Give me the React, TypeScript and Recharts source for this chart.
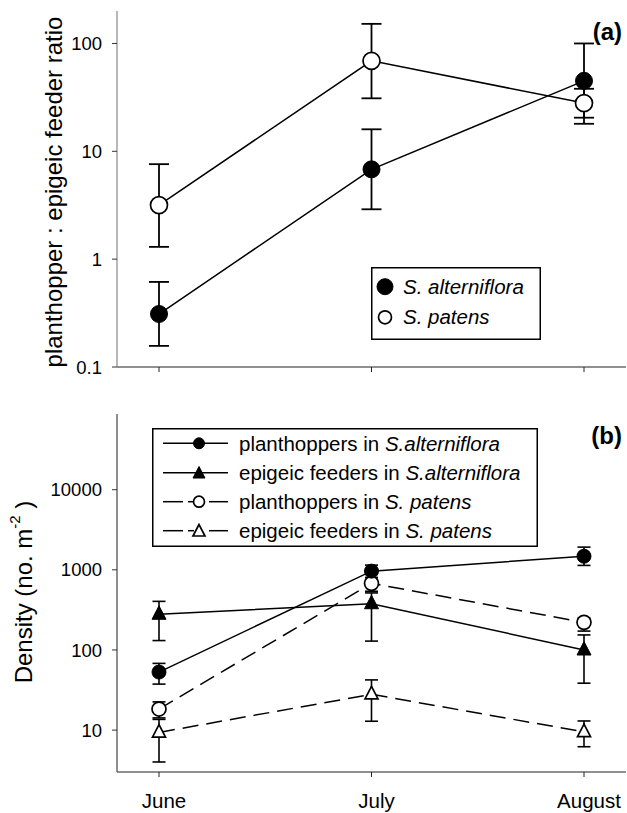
import React from 'react';
import { LineChart, Line, XAxis, YAxis, ErrorBar, Legend } from 'recharts';

const FONT = '"Liberation Sans", Arial, Helvetica, sans-serif';

// categories
const months = ['June', 'July', 'August'];

// panel (a): planthopper : epigeic feeder ratio
const ratioAlt = [0.31, 6.8, 45];
const ratioAltLo = [0.157, 2.9, 20.5];
const ratioAltHi = [0.615, 16, 100];
const ratioPat = [3.17, 69, 28];
const ratioPatLo = [1.3, 31, 18];
const ratioPatHi = [7.6, 152, 38];
const ratioTicks = [0.1, 1, 10, 100];
const ratioNames = ['S. alterniflora', 'S. patens'];

// panel (b): density (no. m-2)
const phAlt = [53, 963, 1480];
const phAltLo = [37.5, 800, 1135];
const phAltHi = [68, 1145, 1920];
const efAlt = [279, 378, 100];
const efAltLo = [131, 129, 38.5];
const efAltHi = [404, 515, 154];
const phPat = [18.3, 678, 221];
const phPatLo = [14.2, 540, 172];
const phPatHi = [22.5, 800, 250];
const efPat = [9.36, 28, 9.5];
const efPatLo = [4.0, 12.9, 6.2];
const efPatHi = [13.6, 42.3, 13];
const densityTicks = [10, 100, 1000, 10000];
const densityPrefix = ['planthoppers in ', 'epigeic feeders in ', 'planthoppers in ', 'epigeic feeders in '];
const densitySpecies = ['S.alterniflora', 'S.alterniflora', 'S. patens', 'S. patens'];

const err = (v: number[], lo: number[], hi: number[], i: number) => [v[i] - lo[i], hi[i] - v[i]];

const topData = months.map((m, i) => ({
  month: m,
  alt: ratioAlt[i],
  altErr: err(ratioAlt, ratioAltLo, ratioAltHi, i),
  pat: ratioPat[i],
  patErr: err(ratioPat, ratioPatLo, ratioPatHi, i),
}));

const botData = months.map((m, i) => ({
  month: m,
  phAlt: phAlt[i],
  phAltErr: err(phAlt, phAltLo, phAltHi, i),
  efAlt: efAlt[i],
  efAltErr: err(efAlt, efAltLo, efAltHi, i),
  phPat: phPat[i],
  phPatErr: err(phPat, phPatLo, phPatHi, i),
  efPat: efPat[i],
  efPatErr: err(efPat, efPatLo, efPatHi, i),
}));

type Kind = 'fc' | 'oc' | 'ft' | 'ot';

function Marker({ cx, cy, kind, r }: { cx: number; cy: number; kind: Kind; r: number }) {
  if (cx == null || cy == null) return null;
  if (kind === 'fc') return <circle cx={cx} cy={cy} r={r} fill="#000" stroke="#000" strokeWidth={1} />;
  if (kind === 'oc') return <circle cx={cx} cy={cy} r={r} fill="#fff" stroke="#000" strokeWidth={1.7} />;
  const h = r;
  const pts = `${cx},${cy - h * 1.2} ${cx - h},${cy + h * 0.72} ${cx + h},${cy + h * 0.72}`;
  if (kind === 'ft') return <polygon points={pts} fill="#000" stroke="#000" strokeWidth={1} strokeLinejoin="miter" />;
  return <polygon points={pts} fill="#fff" stroke="#000" strokeWidth={1.7} strokeLinejoin="miter" />;
}

const dotFn = (kind: Kind, r: number) => (p: any) => (
  <Marker key={`m-${kind}-${p.index}`} cx={p.cx} cy={p.cy} kind={kind} r={r} />
);

const XTick = (p: any) => (
  <text x={p.x + 5} y={p.y + 15} textAnchor="middle" fontSize={20.5} fontFamily={FONT} fill="#000">
    {p.payload.value}
  </text>
);

const EmptyTick = () => <g />;

const TopLegend = () => (
  <svg width={170} height={73} style={{ display: 'block' }}>
    <rect x={0.75} y={0.75} width={168.5} height={71.5} fill="#fff" stroke="#000" strokeWidth={1.5} />
    <Marker cx={14} cy={19.7} kind="fc" r={8} />
    <Marker cx={14} cy={50.3} kind="oc" r={6.5} />
    {ratioNames.map((n, i) => (
      <text key={n} x={32} y={i === 0 ? 26.7 : 57.3} fontSize={20.5} fontStyle="italic" fontFamily={FONT} fill="#000">
        {n}
      </text>
    ))}
  </svg>
);

const BotLegend = () => {
  const rows = [15.3, 44.7, 73.7, 102.7];
  const kinds: Kind[] = ['fc', 'ft', 'oc', 'ot'];
  return (
    <svg width={386} height={119} style={{ display: 'block' }}>
      <rect x={0.75} y={0.75} width={384.5} height={117.5} fill="#fff" stroke="#000" strokeWidth={1.5} />
      {rows.map((y, i) => (
        <g key={i}>
          {i < 2 ? (
            <line x1={11} y1={y} x2={76} y2={y} stroke="#000" strokeWidth={1.5} />
          ) : (
            <g stroke="#000" strokeWidth={1.5}>
              <line x1={11} y1={y} x2={31} y2={y} />
              <line x1={36} y1={y} x2={42} y2={y} />
              <line x1={57} y1={y} x2={76} y2={y} />
            </g>
          )}
          <Marker cx={47} cy={i === 1 || i === 3 ? y + 1 : y} kind={kinds[i]} r={i === 1 || i === 3 ? 6 : 5.5} />
          <text x={87} y={y + 7.5} fontSize={20.5} fontFamily={FONT} fill="#000">
            {densityPrefix[i]}
            <tspan fontStyle="italic">{densitySpecies[i]}</tspan>
          </text>
        </g>
      ))}
    </svg>
  );
};

export default function App() {
  return (
    <div style={{ position: 'absolute', left: 0, top: 0, width: 627, height: 813, background: '#fff' }}>
      <LineChart width={627} height={400} data={topData} margin={{ top: 11, right: 1, bottom: 0, left: 0 }}>
        <XAxis
          dataKey="month"
          padding={{ left: 42, right: 42 }}
          height={33}
          tick={<EmptyTick />}
          tickSize={5}
          axisLine={{ stroke: '#222', strokeWidth: 1.2 }}
          tickLine={{ stroke: '#222' }}
        />
        <XAxis
          xAxisId="top"
          orientation="top"
          dataKey="month"
          padding={{ left: 42, right: 42 }}
          height={0}
          tick={false}
          tickLine={false}
          axisLine={{ stroke: '#444', strokeWidth: 1.2 }}
        />
        <YAxis
          type="number"
          scale="log"
          domain={[0.1, 200]}
          ticks={ratioTicks}
          allowDataOverflow
          width={117}
          tickSize={5}
          tickMargin={10}
          tick={{ fontSize: 18.5, fill: '#000', fontFamily: FONT }}
          tickFormatter={(v: number) => String(v)}
          axisLine={{ stroke: '#888', strokeWidth: 1.2 }}
          tickLine={{ stroke: '#333' }}
        />
        <Legend
          layout="vertical"
          align="center"
          verticalAlign="middle"
          wrapperStyle={{ left: 371, top: 267, width: 170, height: 73 }}
          content={() => <TopLegend />}
        />
        <Line dataKey="alt" stroke="#000" strokeWidth={1.5} isAnimationActive={false} dot={dotFn('fc', 8.5)} activeDot={false}>
          <ErrorBar dataKey="altErr" width={10} strokeWidth={1.8} stroke="#000" isAnimationActive={false} />
        </Line>
        <Line dataKey="pat" stroke="#000" strokeWidth={1.5} isAnimationActive={false} dot={dotFn('oc', 8.5)} activeDot={false}>
          <ErrorBar dataKey="patErr" width={10} strokeWidth={1.8} stroke="#000" isAnimationActive={false} />
        </Line>
        <text
          x={53}
          y={192}
          transform="rotate(-90 53 192)"
          textAnchor="middle"
          dominantBaseline="central"
          fontSize={24}
          fontFamily={FONT}
          fill="#000"
        >
          planthopper : epigeic feeder ratio
        </text>
        <text x={622} y={40} textAnchor="end" fontSize={24} fontWeight="bold" fontFamily={FONT} fill="#000">
          (a)
        </text>
      </LineChart>

      <LineChart width={627} height={413} data={botData} margin={{ top: 14, right: 1, bottom: 0, left: 0 }}>
        <XAxis
          dataKey="month"
          padding={{ left: 42, right: 42 }}
          height={41}
          tickSize={5}
          tickMargin={16}
          tick={<XTick />}
          axisLine={{ stroke: '#222', strokeWidth: 1.2 }}
          tickLine={{ stroke: '#222' }}
        />
        <XAxis
          xAxisId="top"
          orientation="top"
          dataKey="month"
          padding={{ left: 42, right: 42 }}
          height={0}
          tick={false}
          tickLine={false}
          axisLine={{ stroke: '#444', strokeWidth: 1.2 }}
        />
        <YAxis
          type="number"
          scale="log"
          domain={[3, 88000]}
          ticks={densityTicks}
          allowDataOverflow
          width={117}
          tickSize={5}
          tickMargin={10}
          tick={{ fontSize: 18.5, fill: '#000', fontFamily: FONT }}
          tickFormatter={(v: number) => String(v)}
          axisLine={{ stroke: '#444', strokeWidth: 1.2 }}
          tickLine={{ stroke: '#333' }}
        />
        <Legend
          layout="vertical"
          align="center"
          verticalAlign="middle"
          wrapperStyle={{ left: 152, top: 28, width: 386, height: 119 }}
          content={() => <BotLegend />}
        />
        <Line dataKey="efPat" stroke="#000" strokeWidth={1.5} strokeDasharray="16 8" isAnimationActive={false} dot={dotFn('ot', 6.5)} activeDot={false}>
          <ErrorBar dataKey="efPatErr" width={6.5} strokeWidth={1.6} stroke="#000" isAnimationActive={false} />
        </Line>
        <Line dataKey="phPat" stroke="#000" strokeWidth={1.5} strokeDasharray="16 8" isAnimationActive={false} dot={dotFn('oc', 7)} activeDot={false}>
          <ErrorBar dataKey="phPatErr" width={6.5} strokeWidth={1.6} stroke="#000" isAnimationActive={false} />
        </Line>
        <Line dataKey="efAlt" stroke="#000" strokeWidth={1.5} isAnimationActive={false} dot={dotFn('ft', 7)} activeDot={false}>
          <ErrorBar dataKey="efAltErr" width={6.5} strokeWidth={1.6} stroke="#000" isAnimationActive={false} />
        </Line>
        <Line dataKey="phAlt" stroke="#000" strokeWidth={1.5} isAnimationActive={false} dot={dotFn('fc', 7)} activeDot={false}>
          <ErrorBar dataKey="phAltErr" width={6.5} strokeWidth={1.6} stroke="#000" isAnimationActive={false} />
        </Line>
        <text
          x={23}
          y={192}
          transform="rotate(-90 23 192)"
          textAnchor="middle"
          dominantBaseline="central"
          fontSize={24}
          fontFamily={FONT}
          fill="#000"
        >
          Density (no. m
          <tspan fontSize={15} dy={-9}>-2</tspan>
          <tspan dy={9}> )</tspan>
        </text>
        <text x={622} y={44} textAnchor="end" fontSize={24} fontWeight="bold" fontFamily={FONT} fill="#000">
          (b)
        </text>
      </LineChart>
    </div>
  );
}
